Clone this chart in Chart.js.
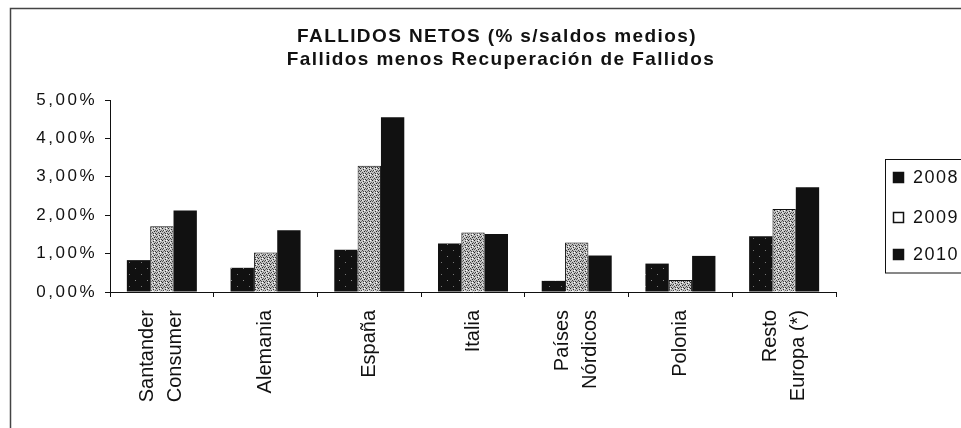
<!DOCTYPE html>
<html>
<head>
<meta charset="utf-8">
<script src="https://cdn.jsdelivr.net/npm/chart.js@4/dist/chart.umd.min.js"></script>
<style>
  html, body { margin: 0; padding: 0; background: #fff; }
  #chart { display: block; }
</style>
</head>
<body>
<canvas id="chart" width="961" height="428"></canvas>
<script>
var categories = [['Santander', 'Consumer'], 'Alemania', 'España', 'Italia', ['Países', 'Nórdicos'], 'Polonia', ['Resto', 'Europa (*)']];
var years = ['2008', '2009', '2010'];
var values2008 = [0.83, 0.63, 1.10, 1.26, 0.29, 0.74, 1.45];
var values2009 = [1.71, 1.03, 3.29, 1.55, 1.29, 0.31, 2.16];
var values2010 = [2.12, 1.61, 4.55, 1.51, 0.95, 0.94, 2.73];
var yTicks = [0, 1, 2, 3, 4, 5];

var ink = '#111';

// small repeating tiles for the printed bar fills
function makePattern(size, bg, dots) {
  var c = document.createElement('canvas');
  c.width = size; c.height = size;
  var g = c.getContext('2d');
  g.fillStyle = bg;
  g.fillRect(0, 0, size, size);
  dots.forEach(function (d) {
    g.fillStyle = d[2];
    g.fillRect(d[0], d[1], 1, 1);
  });
  return g.createPattern(c, 'repeat');
}

var ctx = document.getElementById('chart').getContext('2d');

var fill2008 = makePattern(12, ink, [[3, 4, '#888'], [9, 10, '#777']]);
var fill2009 = makePattern(6, '#c2c2c2', [
  [0, 0, '#222'], [3, 1, '#333'], [1, 2, '#444'], [4, 3, '#222'],
  [2, 4, '#444'], [5, 5, '#333'], [0, 3, '#555'], [3, 5, '#444'],
  [5, 2, '#666'], [1, 5, '#777'], [4, 0, '#fff'], [2, 2, '#eee']
]);

var legendMarks = [
  { fill: ink, stroke: ink },
  { fill: '#fff', stroke: ink },
  { fill: ink, stroke: ink }
];

var pctLabel = function (v) {
  return v.toFixed(2).replace('.', ',') + '%';
};

// titles, legend box and the outer frame
var decorations = {
  id: 'decorations',
  afterDraw: function (chart) {
    var c = chart.ctx;
    c.save();
    c.strokeStyle = '#444';
    c.lineWidth = 1.5;
    c.beginPath();
    c.moveTo(10.5, 428);
    c.lineTo(10.5, 8.5);
    c.lineTo(961, 8.5);
    c.stroke();

    c.fillStyle = ink;
    c.textAlign = 'center';
    c.textBaseline = 'middle';
    c.letterSpacing = '1.4px';
    c.font = 'bold 19px "Liberation Sans", Arial, sans-serif';
    c.fillText('FALLIDOS NETOS (% s/saldos medios)', 497, 37);
    c.fillText('Fallidos menos Recuperación de Fallidos', 501, 60);

    c.lineWidth = 1;
    c.strokeStyle = ink;
    c.strokeRect(885.5, 159.5, 100, 113.5);
    c.textAlign = 'left';
    c.letterSpacing = '1.5px';
    c.font = '18px "Liberation Sans", Arial, sans-serif';
    var rows = [178, 218, 255];
    years.forEach(function (yr, i) {
      var m = legendMarks[i];
      c.fillStyle = m.fill;
      c.fillRect(893.5, rows[i] - 5.5, 10, 10);
      c.strokeStyle = m.stroke;
      c.lineWidth = 1.5;
      c.strokeRect(893.5, rows[i] - 5.5, 10, 10);
      c.fillStyle = ink;
      c.fillText(yr, 913, rows[i]);
    });
    c.restore();
  }
};

// wider spacing on the value labels, and two-line category labels centred on their tick
var axisTweaks = {
  id: 'axisTweaks',
  afterLayout: function (chart) {
    var y = chart.scales.y;
    if (!y._spaced) {
      var drawLabels = y.drawLabels;
      y.drawLabels = function (area) {
        this.ctx.save();
        this.ctx.letterSpacing = '2.5px';
        drawLabels.call(this, area);
        this.ctx.restore();
      };
      y._spaced = true;
    }
    var x = chart.scales.x;
    if (!x._centred) {
      var getItems = x.getLabelItems;
      x.getLabelItems = function (area) {
        var items = getItems.call(this, area);
        if (!items._centred) {
          items.forEach(function (it) {
            if (Array.isArray(it.label)) {
              it.textOffset -= (it.label.length - 1) * it.font.lineHeight / 2;
            }
          });
          items._centred = true;
        }
        return items;
      };
      x._centred = true;
    }
  }
};

new Chart(ctx, {
  type: 'bar',
  data: {
    labels: categories,
    datasets: [
      { label: years[0], data: values2008, backgroundColor: fill2008, borderWidth: 0 },
      { label: years[1], data: values2009, backgroundColor: fill2009, borderColor: ink, borderWidth: 1 },
      { label: years[2], data: values2010, backgroundColor: ink, borderWidth: 0 }
    ]
  },
  options: {
    responsive: false,
    animation: false,
    events: [],
    layout: { padding: { top: 100, right: 125, left: 0, bottom: 0 } },
    datasets: {
      bar: { categoryPercentage: 0.675, barPercentage: 1.0 }
    },
    scales: {
      x: {
        afterFit: function (scale) { scale.height = 136; },
        border: { color: ink, width: 1 },
        grid: { drawOnChartArea: false, tickLength: 5, color: ink, offset: true },
        ticks: {
          minRotation: 90,
          maxRotation: 90,
          autoSkip: false,
          padding: 13,
          color: ink,
          font: { family: '"Liberation Sans", Arial, sans-serif', size: 20, lineHeight: 1.4 }
        }
      },
      y: {
        min: 0,
        max: 5,
        afterFit: function (scale) { scale.width = 110; },
        afterBuildTicks: function (scale) {
          scale.ticks = yTicks.map(function (v) { return { value: v }; });
        },
        border: { color: ink, width: 1 },
        grid: { drawOnChartArea: false, tickLength: 5, color: ink },
        ticks: {
          padding: 8,
          color: ink,
          font: { family: '"Liberation Sans", Arial, sans-serif', size: 17 },
          callback: pctLabel
        }
      }
    },
    plugins: {
      legend: { display: false },
      title: { display: false },
      tooltip: { enabled: false }
    }
  },
  plugins: [decorations, axisTweaks]
});
</script>
</body>
</html>
